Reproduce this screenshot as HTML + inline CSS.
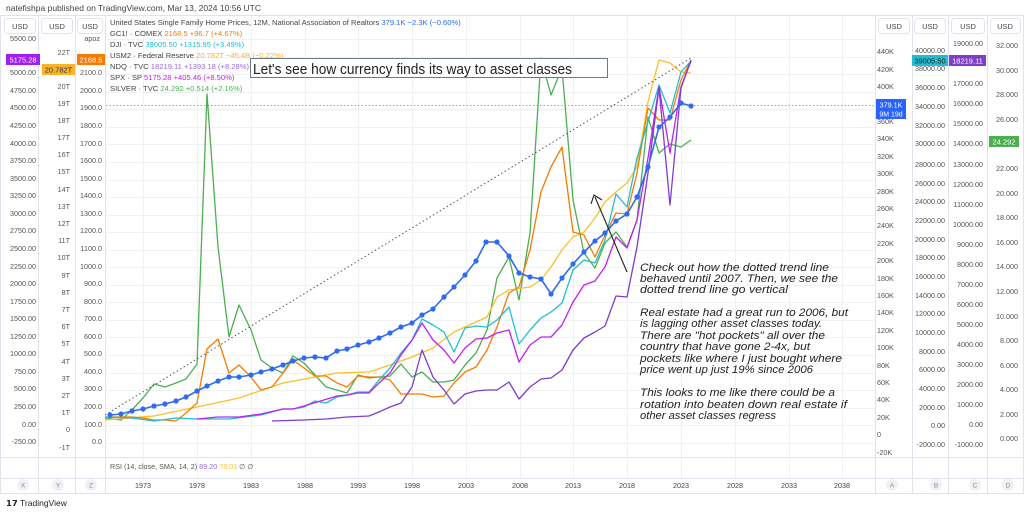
<!DOCTYPE html>
<html><head><meta charset="utf-8"><style>
html,body{margin:0;padding:0;background:#fff;}
svg{display:block;font-family:"Liberation Sans",sans-serif;}
</style></head><body>
<svg width="1024" height="513" viewBox="0 0 1024 513" xmlns="http://www.w3.org/2000/svg">
<rect width="1024" height="513" fill="#fff"/>
<text x="6" y="11" font-size="8.5" fill="#444">natefishpa published on TradingView.com, Mar 13, 2024 10:56 UTC</text>
<!-- frame -->
<rect x="0.5" y="15.5" width="1023" height="478" fill="none" stroke="#e0e3eb"/>
<g stroke="#e0e3eb" stroke-width="1">
<line x1="38.5" y1="16" x2="38.5" y2="493"/><line x1="75.5" y1="16" x2="75.5" y2="493"/><line x1="105.5" y1="16" x2="105.5" y2="493"/>
<line x1="875.5" y1="16" x2="875.5" y2="493"/><line x1="912.5" y1="16" x2="912.5" y2="493"/><line x1="948.5" y1="16" x2="948.5" y2="493"/><line x1="987.5" y1="16" x2="987.5" y2="493"/>
<line x1="0" y1="457.5" x2="1024" y2="457.5"/><line x1="0" y1="478.5" x2="1024" y2="478.5"/>
</g>
<!-- grid -->
<g stroke="#f0f1f4" stroke-width="1">
<line x1="143.5" y1="16" x2="143.5" y2="478"/><line x1="197.5" y1="16" x2="197.5" y2="478"/><line x1="251.5" y1="16" x2="251.5" y2="478"/><line x1="305.5" y1="16" x2="305.5" y2="478"/><line x1="358.5" y1="16" x2="358.5" y2="478"/><line x1="412.5" y1="16" x2="412.5" y2="478"/><line x1="466.5" y1="16" x2="466.5" y2="478"/><line x1="520.5" y1="16" x2="520.5" y2="478"/><line x1="573.5" y1="16" x2="573.5" y2="478"/><line x1="627.5" y1="16" x2="627.5" y2="478"/><line x1="681.5" y1="16" x2="681.5" y2="478"/><line x1="735.5" y1="16" x2="735.5" y2="478"/><line x1="789.5" y1="16" x2="789.5" y2="478"/><line x1="842.5" y1="16" x2="842.5" y2="478"/>
<line x1="106" y1="39.5" x2="875" y2="39.5"/><line x1="106" y1="57.5" x2="875" y2="57.5"/><line x1="106" y1="74.5" x2="875" y2="74.5"/><line x1="106" y1="92.5" x2="875" y2="92.5"/><line x1="106" y1="109.5" x2="875" y2="109.5"/><line x1="106" y1="127.5" x2="875" y2="127.5"/><line x1="106" y1="144.5" x2="875" y2="144.5"/><line x1="106" y1="162.5" x2="875" y2="162.5"/><line x1="106" y1="180.5" x2="875" y2="180.5"/><line x1="106" y1="197.5" x2="875" y2="197.5"/><line x1="106" y1="215.5" x2="875" y2="215.5"/><line x1="106" y1="232.5" x2="875" y2="232.5"/><line x1="106" y1="250.5" x2="875" y2="250.5"/><line x1="106" y1="267.5" x2="875" y2="267.5"/><line x1="106" y1="285.5" x2="875" y2="285.5"/><line x1="106" y1="302.5" x2="875" y2="302.5"/><line x1="106" y1="320.5" x2="875" y2="320.5"/><line x1="106" y1="337.5" x2="875" y2="337.5"/><line x1="106" y1="355.5" x2="875" y2="355.5"/><line x1="106" y1="373.5" x2="875" y2="373.5"/><line x1="106" y1="390.5" x2="875" y2="390.5"/><line x1="106" y1="408.5" x2="875" y2="408.5"/><line x1="106" y1="425.5" x2="875" y2="425.5"/><line x1="106" y1="443.5" x2="875" y2="443.5"/>
</g>
<!-- USD header boxes -->
<g fill="#fff" stroke="#e0e3eb">
<rect x="4.5" y="18.5" width="31" height="15" rx="3"/><rect x="41.5" y="18.5" width="31" height="15" rx="3"/><rect x="77.5" y="18.5" width="25" height="15" rx="3"/>
<rect x="878.5" y="18.5" width="31" height="15" rx="3"/><rect x="914.5" y="18.5" width="31" height="15" rx="3"/><rect x="951.5" y="18.5" width="33" height="15" rx="3"/><rect x="990.5" y="18.5" width="30" height="15" rx="3"/>
</g>
<g font-size="7.5" fill="#444" text-anchor="middle">
<text x="20" y="29">USD</text><text x="57" y="29">USD</text><text x="90" y="29">USD</text>
<text x="894" y="29">USD</text><text x="930" y="29">USD</text><text x="968" y="29">USD</text><text x="1005" y="29">USD</text>
</g>
<!-- left axis X -->
<g font-size="7.2" fill="#555" text-anchor="end">
<text x="36" y="41">5500.00</text><text x="36" y="75">5000.00</text><text x="36" y="93">4750.00</text><text x="36" y="110">4500.00</text><text x="36" y="128">4250.00</text><text x="36" y="146">4000.00</text><text x="36" y="163">3750.00</text><text x="36" y="181">3500.00</text><text x="36" y="198">3250.00</text><text x="36" y="216">3000.00</text><text x="36" y="233">2750.00</text><text x="36" y="251">2500.00</text><text x="36" y="269">2250.00</text><text x="36" y="286">2000.00</text><text x="36" y="304">1750.00</text><text x="36" y="321">1500.00</text><text x="36" y="339">1250.00</text><text x="36" y="356">1000.00</text><text x="36" y="374">750.00</text><text x="36" y="391">500.00</text><text x="36" y="409">250.00</text><text x="36" y="427">0.00</text><text x="36" y="444">-250.00</text>
</g>
<g font-size="7.2" fill="#555" text-anchor="end">
<text x="70" y="55">22T</text><text x="70" y="89">20T</text><text x="70" y="106">19T</text><text x="70" y="123">18T</text><text x="70" y="140">17T</text><text x="70" y="157">16T</text><text x="70" y="174">15T</text><text x="70" y="192">14T</text><text x="70" y="209">13T</text><text x="70" y="226">12T</text><text x="70" y="243">11T</text><text x="70" y="260">10T</text><text x="70" y="278">9T</text><text x="70" y="295">8T</text><text x="70" y="312">7T</text><text x="70" y="329">6T</text><text x="70" y="346">5T</text><text x="70" y="364">4T</text><text x="70" y="381">3T</text><text x="70" y="398">2T</text><text x="70" y="415">1T</text><text x="70" y="432">0</text><text x="70" y="450">-1T</text>
</g>
<g font-size="7.2" fill="#555" text-anchor="end">
<text x="100" y="41">apoz</text><text x="102" y="75">2100.0</text><text x="102" y="93">2000.0</text><text x="102" y="110">1900.0</text><text x="102" y="128">1800.0</text><text x="102" y="146">1700.0</text><text x="102" y="163">1600.0</text><text x="102" y="181">1500.0</text><text x="102" y="198">1400.0</text><text x="102" y="216">1300.0</text><text x="102" y="233">1200.0</text><text x="102" y="251">1100.0</text><text x="102" y="269">1000.0</text><text x="102" y="286">900.0</text><text x="102" y="304">800.0</text><text x="102" y="321">700.0</text><text x="102" y="339">600.0</text><text x="102" y="356">500.0</text><text x="102" y="374">400.0</text><text x="102" y="391">300.0</text><text x="102" y="409">200.0</text><text x="102" y="427">100.0</text><text x="102" y="444">0.0</text>
</g>
<!-- right axis A -->
<g font-size="7.2" fill="#555">
<text x="877" y="54">440K</text><text x="877" y="72">420K</text><text x="877" y="89">400K</text><text x="877" y="124">360K</text><text x="877" y="141">340K</text><text x="877" y="159">320K</text><text x="877" y="176">300K</text><text x="877" y="194">280K</text><text x="877" y="211">260K</text><text x="877" y="228">240K</text><text x="877" y="246">220K</text><text x="877" y="263">200K</text><text x="877" y="281">180K</text><text x="877" y="298">160K</text><text x="877" y="315">140K</text><text x="877" y="333">120K</text><text x="877" y="350">100K</text><text x="877" y="368">80K</text><text x="877" y="385">60K</text><text x="877" y="402">40K</text><text x="877" y="420">20K</text><text x="877" y="437">0</text><text x="877" y="455">-20K</text>
</g>
<g font-size="7.2" fill="#555" text-anchor="end">
<text x="945" y="53">40000.00</text><text x="945" y="71">38000.00</text><text x="945" y="90">36000.00</text><text x="945" y="109">34000.00</text><text x="945" y="128">32000.00</text><text x="945" y="146">30000.00</text><text x="945" y="167">28000.00</text><text x="945" y="186">26000.00</text><text x="945" y="204">24000.00</text><text x="945" y="223">22000.00</text><text x="945" y="242">20000.00</text><text x="945" y="260">18000.00</text><text x="945" y="279">16000.00</text><text x="945" y="298">14000.00</text><text x="945" y="316">12000.00</text><text x="945" y="335">10000.00</text><text x="945" y="354">8000.00</text><text x="945" y="372">6000.00</text><text x="945" y="391">4000.00</text><text x="945" y="410">2000.00</text><text x="945" y="428">0.00</text><text x="945" y="447">-2000.00</text>
</g>
<g font-size="7.2" fill="#555" text-anchor="end">
<text x="983" y="46">19000.00</text><text x="983" y="86">17000.00</text><text x="983" y="106">16000.00</text><text x="983" y="126">15000.00</text><text x="983" y="146">14000.00</text><text x="983" y="167">13000.00</text><text x="983" y="187">12000.00</text><text x="983" y="207">11000.00</text><text x="983" y="227">10000.00</text><text x="983" y="247">9000.00</text><text x="983" y="267">8000.00</text><text x="983" y="287">7000.00</text><text x="983" y="307">6000.00</text><text x="983" y="327">5000.00</text><text x="983" y="347">4000.00</text><text x="983" y="367">3000.00</text><text x="983" y="387">2000.00</text><text x="983" y="407">1000.00</text><text x="983" y="427">0.00</text><text x="983" y="447">-1000.00</text>
</g>
<g font-size="7.2" fill="#555" text-anchor="end">
<text x="1018" y="48">32.000</text><text x="1018" y="73">30.000</text><text x="1018" y="97">28.000</text><text x="1018" y="122">26.000</text><text x="1018" y="171">22.000</text><text x="1018" y="196">20.000</text><text x="1018" y="220">18.000</text><text x="1018" y="245">16.000</text><text x="1018" y="269">14.000</text><text x="1018" y="294">12.000</text><text x="1018" y="319">10.000</text><text x="1018" y="343">8.000</text><text x="1018" y="368">6.000</text><text x="1018" y="392">4.000</text><text x="1018" y="417">2.000</text><text x="1018" y="441">0.000</text>
</g>
<!-- badges -->
<rect x="6" y="54" width="34" height="11" fill="#a020f0"/><text x="23" y="62.5" font-size="7.5" fill="#fff" text-anchor="middle">5175.28</text>
<rect x="42" y="64" width="33" height="11" fill="#fbb32a"/><text x="58.5" y="72.5" font-size="7.5" fill="#333" text-anchor="middle">20.782T</text>
<rect x="77" y="54" width="28" height="11" fill="#f57c00"/><text x="91" y="62.5" font-size="7.5" fill="#fff" text-anchor="middle">2168.5</text>
<rect x="876" y="99" width="30" height="20" fill="#2962ff"/><text x="891" y="107.5" font-size="7.2" fill="#fff" text-anchor="middle">379.1K</text><text x="891" y="116.5" font-size="7" fill="#fff" text-anchor="middle">9M 19d</text>
<rect x="912" y="55" width="36" height="11" fill="#22bdd1"/><text x="930" y="63.5" font-size="7.5" fill="#222" text-anchor="middle">39005.50</text>
<rect x="949" y="55" width="37" height="11" fill="#7e3ec9"/><text x="967.5" y="63.5" font-size="7.5" fill="#fff" text-anchor="middle">18219.11</text>
<rect x="989" y="136" width="30" height="11" fill="#4caf50"/><text x="1004" y="144.5" font-size="7.5" fill="#fff" text-anchor="middle">24.292</text>
<!-- dotted horizontal price line -->
<line x1="106" y1="105.5" x2="875" y2="105.5" stroke="#7fa3ff" stroke-width="1" stroke-dasharray="1.5,2"/>
<!-- series -->
<g fill="none" stroke-width="1.3" stroke-linejoin="round">
<polyline stroke="#4caf50" points="105,418 121,420 132,410 143,398 154,384 165,387 176,383 186,379 197,364 207,94 218,247 229,337 239,305 251,330 261,360 272,368 283,373 293,356 304,363 315,375 326,387 337,390 347,393 358,375 369,378 379,377 390,376 401,364 412,377 422,372 433,382 444,382 454,380 465,365 476,353 487,330 497,278 509,257 519,300 530,233 541,58 551,95 562,68 573,200 584,253 595,268 605,243 616,232 627,247 637,220 648,117 659,153 670,144 681,147 691,140"/>
<polyline stroke="#fbbf2a" points="105,420 154,416 197,407 239,398 283,383 337,373 369,372 390,365 412,357 433,348 454,332 476,322 487,317 497,297 509,290 530,287 541,280 551,267 562,250 573,237 584,232 595,218 605,202 616,192 627,183 637,167 648,102 659,60 670,63 681,72 691,73"/>
<polyline stroke="#f57c00" points="110,417 132,417 143,418 154,420 165,420 176,421 186,413 197,403 207,349 218,339 229,373 239,365 251,377 261,390 272,387 283,373 293,360 304,368 315,376 326,376 337,383 347,387 358,376 369,377 379,377 390,380 401,394 412,394 422,394 433,397 444,396 454,383 465,372 476,367 487,350 497,327 509,293 519,287 530,250 541,192 551,167 562,147 573,232 584,235 595,257 605,235 616,213 627,214 637,173 648,108 659,120 670,120 681,80 691,60"/>
<polyline stroke="#22bdd1" points="105,417 132,418 154,421 176,418 197,419 229,419 261,415 283,409 293,409 304,407 315,401 326,403 337,397 347,395 358,392 369,392 379,380 390,368 401,353 412,340 422,319 433,325 444,332 454,352 465,328 476,326 487,327 497,320 509,307 519,344 530,330 541,318 551,312 562,303 573,270 584,260 595,263 605,240 616,194 627,207 637,158 648,122 659,85 670,113 681,72 691,61"/>
<polyline stroke="#c020f0" points="197,419 218,417 239,417 261,414 283,409 293,409 304,406 337,396 347,395 358,393 369,393 379,383 390,373 401,355 412,340 422,323 433,340 444,350 454,363 465,348 476,339 487,338 497,333 509,330 519,362 530,345 541,337 551,337 562,325 573,302 584,285 595,281 605,267 616,237 627,248 637,220 648,158 659,87 670,153 681,87 691,61"/>
<polyline stroke="#7e3ec9" points="272,421 304,420 326,419 347,417 369,416 379,412 390,407 401,403 412,387 422,350 433,377 444,390 454,404 465,394 476,391 487,390 497,390 509,382 519,399 530,387 541,379 551,378 562,370 573,350 584,338 595,332 605,326 616,296 627,297 637,247 648,173 659,88 670,205 681,88 691,60"/>
</g>
<line x1="105" y1="415" x2="691" y2="58" stroke="#555" stroke-width="1" stroke-dasharray="1.5,2.5"/>
<polyline fill="none" stroke="#2f6bf0" stroke-width="1.6" points="110,415 121,414 132,411 143,409 154,406 165,404 176,401 186,397 197,391 207,386 218,381 229,377 239,377 251,375 261,372 272,369 283,365 293,361 304,358 315,357 326,358 337,351 347,349 358,345 369,342 379,338 390,333 401,327 412,323 422,315 433,309 444,297 454,287 465,275 476,261 486,242 497,242 509,256 519,273 530,277 541,279 551,294 562,278 573,264 584,252 595,241 605,233 616,221 627,214 637,197 648,167 659,127 670,117 681,103 691,106"/>
<g fill="#2f6bf0">
<circle cx="110" cy="415" r="2.6"/><circle cx="121" cy="414" r="2.6"/><circle cx="132" cy="411" r="2.6"/><circle cx="143" cy="409" r="2.6"/><circle cx="154" cy="406" r="2.6"/><circle cx="165" cy="404" r="2.6"/><circle cx="176" cy="401" r="2.6"/><circle cx="186" cy="397" r="2.6"/><circle cx="197" cy="391" r="2.6"/><circle cx="207" cy="386" r="2.6"/><circle cx="218" cy="381" r="2.6"/><circle cx="229" cy="377" r="2.6"/><circle cx="239" cy="377" r="2.6"/><circle cx="251" cy="375" r="2.6"/><circle cx="261" cy="372" r="2.6"/><circle cx="272" cy="369" r="2.6"/><circle cx="283" cy="365" r="2.6"/><circle cx="293" cy="361" r="2.6"/><circle cx="304" cy="358" r="2.6"/><circle cx="315" cy="357" r="2.6"/><circle cx="326" cy="358" r="2.6"/><circle cx="337" cy="351" r="2.6"/><circle cx="347" cy="349" r="2.6"/><circle cx="358" cy="345" r="2.6"/><circle cx="369" cy="342" r="2.6"/><circle cx="379" cy="338" r="2.6"/><circle cx="390" cy="333" r="2.6"/><circle cx="401" cy="327" r="2.6"/><circle cx="412" cy="323" r="2.6"/><circle cx="422" cy="315" r="2.6"/><circle cx="433" cy="309" r="2.6"/><circle cx="444" cy="297" r="2.6"/><circle cx="454" cy="287" r="2.6"/><circle cx="465" cy="275" r="2.6"/><circle cx="476" cy="261" r="2.6"/><circle cx="486" cy="242" r="2.6"/><circle cx="497" cy="242" r="2.6"/><circle cx="509" cy="256" r="2.6"/><circle cx="519" cy="273" r="2.6"/><circle cx="530" cy="277" r="2.6"/><circle cx="541" cy="279" r="2.6"/><circle cx="551" cy="294" r="2.6"/><circle cx="562" cy="278" r="2.6"/><circle cx="573" cy="264" r="2.6"/><circle cx="584" cy="252" r="2.6"/><circle cx="595" cy="241" r="2.6"/><circle cx="605" cy="233" r="2.6"/><circle cx="616" cy="221" r="2.6"/><circle cx="627" cy="214" r="2.6"/><circle cx="637" cy="197" r="2.6"/><circle cx="648" cy="167" r="2.6"/><circle cx="659" cy="127" r="2.6"/><circle cx="670" cy="117" r="2.6"/><circle cx="681" cy="103" r="2.6"/><circle cx="691" cy="106" r="2.6"/>
</g>
<!-- legend -->
<g font-size="7.6">
<text x="110" y="25" fill="#444">United States Single Family Home Prices, 12M, National Association of Realtors <tspan fill="#2f6bf0">379.1K  −2.3K (−0.60%)</tspan></text>
<text x="110" y="36" fill="#444">GC1! · COMEX <tspan fill="#f57c00">2168.5  +96.7 (+4.67%)</tspan></text>
<text x="110" y="47" fill="#444">DJI · TVC <tspan fill="#22bdd1">39005.50  +1315.95 (+3.49%)</tspan></text>
<text x="110" y="58" fill="#444">USM2 · Federal Reserve <tspan fill="#fbb32a">20.782T  −45.4B (−0.22%)</tspan></text>
<text x="110" y="69" fill="#444">NDQ · TVC <tspan fill="#9c6ade">18219.11  +1393.18 (+8.28%)</tspan></text>
<text x="110" y="80" fill="#444">SPX · SP <tspan fill="#c020f0">5175.28  +405.46 (+8.50%)</tspan></text>
<text x="110" y="91" fill="#444">SILVER · TVC <tspan fill="#4caf50">24.292  +0.514 (+2.16%)</tspan></text>
</g>
<!-- title box -->
<rect x="250.5" y="58.5" width="357" height="19" fill="#fff" stroke="#6a7a88"/>
<text x="253" y="74" font-size="15" fill="#222" textLength="319" lengthAdjust="spacingAndGlyphs">Let's see how currency finds its way to asset classes</text>
<!-- arrow -->
<line x1="627" y1="272" x2="595" y2="197" stroke="#222" stroke-width="1.1"/>
<polyline points="591,204 594,195 602,200" fill="none" stroke="#222" stroke-width="1.1"/>
<!-- annotation -->
<g font-size="11.2" font-style="italic" fill="#222">
<text x="640" y="271" textLength="189" lengthAdjust="spacingAndGlyphs">Check out how the dotted trend line</text>
<text x="640" y="282" textLength="198" lengthAdjust="spacingAndGlyphs">behaved until 2007.  Then, we see the</text>
<text x="640" y="293" textLength="148" lengthAdjust="spacingAndGlyphs">dotted trend line go vertical</text>
<text x="640" y="316" textLength="208" lengthAdjust="spacingAndGlyphs">Real estate had a great run to 2006, but</text>
<text x="640" y="327" textLength="182" lengthAdjust="spacingAndGlyphs">is lagging other asset classes today.</text>
<text x="640" y="339" textLength="185" lengthAdjust="spacingAndGlyphs">There are "hot pockets" all over the</text>
<text x="640" y="350" textLength="170" lengthAdjust="spacingAndGlyphs">country that have gone 2-4x, but</text>
<text x="640" y="362" textLength="202" lengthAdjust="spacingAndGlyphs">pockets like where I just bought where</text>
<text x="640" y="373" textLength="173" lengthAdjust="spacingAndGlyphs">price went up just 19% since 2006</text>
<text x="640" y="396" textLength="195" lengthAdjust="spacingAndGlyphs">This looks to me like there could be a</text>
<text x="640" y="408" textLength="207" lengthAdjust="spacingAndGlyphs">rotation into beaten down real estate if</text>
<text x="640" y="419" textLength="136" lengthAdjust="spacingAndGlyphs">other asset classes regress</text>
</g>
<!-- RSI -->
<text x="110" y="469" font-size="7.2" fill="#555">RSI (14, close, SMA, 14, 2) <tspan fill="#9c6ade">89.20</tspan> <tspan fill="#fbbf2a">78.01</tspan>  ∅  ∅</text>
<!-- time axis -->
<g font-size="7.2" fill="#444" text-anchor="middle">
<text x="143" y="488">1973</text><text x="197" y="488">1978</text><text x="251" y="488">1983</text><text x="305" y="488">1988</text><text x="358" y="488">1993</text><text x="412" y="488">1998</text><text x="466" y="488">2003</text><text x="520" y="488">2008</text><text x="573" y="488">2013</text><text x="627" y="488">2018</text><text x="681" y="488">2023</text><text x="735" y="488">2028</text><text x="789" y="488">2033</text><text x="842" y="488">2038</text>
</g>
<g fill="#f0f1f4">
<circle cx="23" cy="485" r="6"/><circle cx="58" cy="485" r="6"/><circle cx="91" cy="485" r="6"/><circle cx="892" cy="485" r="6"/><circle cx="936" cy="485" r="6"/><circle cx="975" cy="485" r="6"/><circle cx="1008" cy="485" r="6"/>
</g>
<g font-size="6.5" fill="#888" text-anchor="middle">
<text x="23" y="487.5">X</text><text x="58" y="487.5">Y</text><text x="91" y="487.5">Z</text><text x="892" y="487.5">A</text><text x="936" y="487.5">B</text><text x="975" y="487.5">C</text><text x="1008" y="487.5">D</text>
</g>
<text x="6" y="506" font-size="8.5" fill="#222"><tspan font-weight="bold">𝟭𝟳</tspan> TradingView</text>
</svg>
</body></html>
